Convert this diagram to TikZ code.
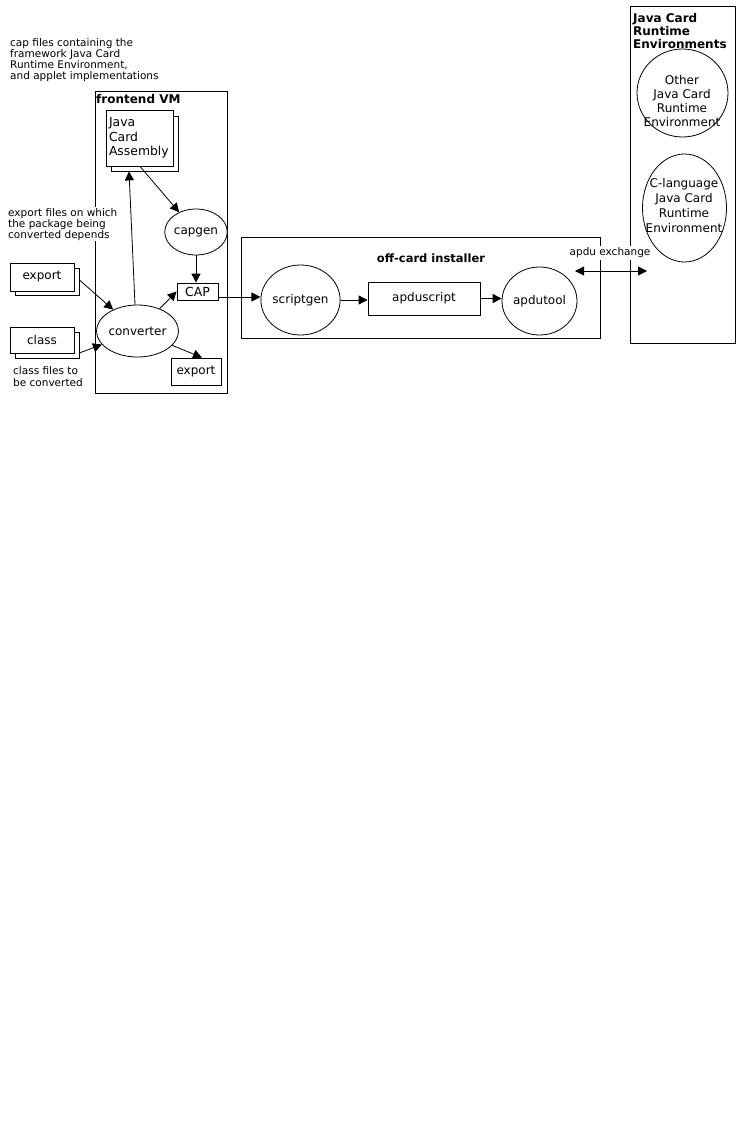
\documentclass[tikz,border=0pt]{standalone}
\usepackage{fontspec}
\setmainfont{DejaVu Sans}
\usetikzlibrary{arrows.meta,shapes.geometric}
\begin{document}
\begin{tikzpicture}[x=1pt,y=-1pt,
  frame/.style={draw,line width=0.8pt,inner sep=0pt},
  box/.style={draw,line width=0.8pt,fill=white,inner sep=0pt,font=\fontsize{12}{14}\selectfont},
  ell/.style={draw,ellipse,line width=0.8pt,fill=white,inner sep=0pt,font=\fontsize{12}{14}\selectfont},
  note/.style={font=\fontsize{10.5}{11}\selectfont,align=left,fill=white,inner sep=1pt},
  title/.style={font=\fontsize{11.5}{13}\selectfont\bfseries,align=left,inner sep=0pt,fill=white},
  etext/.style={font=\fontsize{12}{14}\selectfont,align=center,inner sep=0pt},
  arr/.style={line width=0.8pt,-{Triangle[length=9pt,width=9pt]}},
  dbl/.style={line width=0.8pt,{Triangle[length=9pt,width=9pt]}-{Triangle[length=9pt,width=9pt]}}]
\useasboundingbox (0,0) rectangle (739,1129);

% frames
\node[frame,minimum width=132,minimum height=302] (fe) at (161,242) {};
\node[frame,minimum width=359,minimum height=101] (oc) at (420.5,287.5) {};
\node[frame,minimum width=105,minimum height=337] (jcre) at (682.5,174.5) {};

% notes and titles (base anchor = baseline of the last line)
\node[note,anchor=base west] (n1) at (9,80) {cap files containing the\\framework Java Card\\Runtime Environment,\\and applet implementations};
\node[note,anchor=base west] (n2) at (7,238) {export files on which\\the package being\\converted depends};
\node[note,anchor=base west,font=\fontsize{10.5}{12}\selectfont] (n3) at (12,386) {class files to\\be converted};
\node[title,anchor=base west,font=\fontsize{12}{13}\selectfont\bfseries] (fet) at (96,104) {frontend VM};
\node[title,anchor=center] (oct) at (431,258) {off-card installer};
\node[title,anchor=base west,font=\fontsize{12}{13}\selectfont\bfseries] (jcret) at (633,49) {Java Card\\Runtime\\Environments};
\node[note,anchor=center,inner sep=1.5pt] (exl) at (610,253) {apdu exchange};

% frontend VM content
\node[box,minimum width=67,minimum height=55] (jcab) at (144.5,143.5) {};
\node[box,minimum width=67,minimum height=56,text width=61pt,align=left,inner xsep=3pt,font=\fontsize{12.4}{14.5}\selectfont] (jcaf) at (139.5,138) {Java\\Card\\Assembly};
\node[ell,minimum width=54,minimum height=46] (capgen) at (196,232) {capgen};
\node[box,minimum width=41,minimum height=17,font=\fontsize{12.5}{14}\selectfont] (cap) at (197.5,291.5) {CAP};
\node[ell,minimum width=65,minimum height=52] (conv) at (137.5,331) {converter};
\node[box,minimum width=50,minimum height=27] (exp2) at (196,371.5) {export};

% inputs
\node[box,minimum width=64,minimum height=27] (exp1b) at (47,281.5) {};
\node[box,minimum width=64,minimum height=28] (exp1f) at (42,277) {export};
\node[box,minimum width=64,minimum height=26] (clsb) at (47,345) {};
\node[box,minimum width=64,minimum height=26] (clsf) at (42,340) {class};

% off-card installer content
\node[ell,minimum width=75,minimum height=70] (sg) at (300.5,300) {scriptgen};
\node[box,minimum width=112,minimum height=33] (aps) at (424,298.5) {apduscript};
\node[ell,minimum width=75,minimum height=68] (at) at (539.5,301) {apdutool};

% JCRE content
\node[ell,minimum width=91,minimum height=88] (other) at (682.5,93) {};
\node[etext] (othert) at (682,101) {Other\\Java Card\\Runtime\\Environment};
\node[ell,minimum width=84,minimum height=108] (clang) at (684.5,208) {};
\node[etext,font=\fontsize{12}{15}\selectfont] (clangt) at (684,205.5) {C-language\\Java Card\\Runtime\\Environment};

% connectors
\draw[arr] ([xshift=0.5pt]jcaf.south) -- (capgen);
\draw[arr] (capgen.south) -- (capgen.south |- cap.north);
\draw[arr] ([xshift=-2.5pt]conv.north) -- ([xshift=-15.5pt]jcab.south);
\draw[arr] (conv) -- (cap.west);
\draw[arr] (conv) -- ([xshift=6pt]exp2.north);
\draw[arr] ([yshift=1.5pt]exp1b.east) -- (conv);
\draw[arr] ([yshift=-8pt]clsb.east) -- (conv);
\draw[arr] ([yshift=-5.5pt]cap.east) -- ([yshift=-5.5pt]cap.east -| sg.west);
\draw[arr] (sg.east) -- (sg.east -| aps.west);
\draw[arr] (aps.east) -- (aps.east -| at.west);
\coordinate (exL) at (575,271);
\coordinate (exR) at (647,271);
\draw[dbl] (exL) -- (exR);
\end{tikzpicture}
\end{document}
